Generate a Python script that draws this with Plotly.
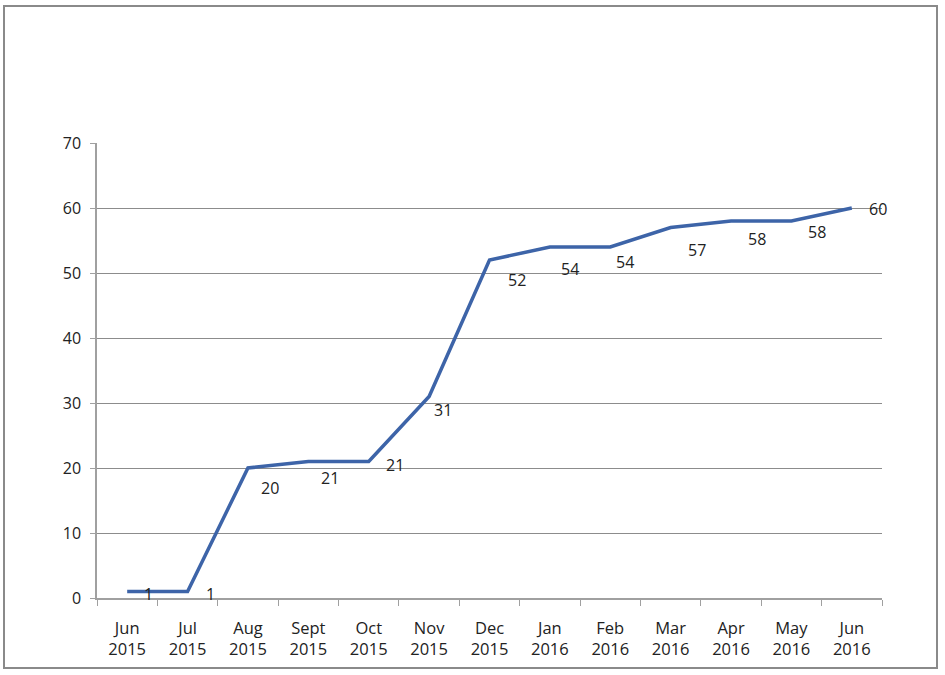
import plotly.graph_objects as go

months = ["Jun<br>2015", "Jul<br>2015", "Aug<br>2015", "Sept<br>2015", "Oct<br>2015",
          "Nov<br>2015", "Dec<br>2015", "Jan<br>2016", "Feb<br>2016", "Mar<br>2016",
          "Apr<br>2016", "May<br>2016", "Jun<br>2016"]
values = [1, 1, 20, 21, 21, 31, 52, 54, 54, 57, 58, 58, 60]
y_ticks = [0, 10, 20, 30, 40, 50, 60, 70]

# label offsets in pixels (style only)
label_dx = [21, 23, 22, 22, 26, 14, 27, 20, 15, 26, 26, 26, 26]
label_dy = [-2, -2, -20, -16, -3, -13, -20, -22, -15, -22, -18, -11, -1]

FONT = "Open Sans, sans-serif"

fig = go.Figure()
fig.add_trace(go.Scatter(
    x=months, y=values, mode="lines",
    line=dict(color="#3d64a8", width=3.5),
    showlegend=False,
))

for m, v, dx, dy in zip(months, values, label_dx, label_dy):
    fig.add_annotation(x=m, y=v, text=str(v), showarrow=False,
                       xshift=dx, yshift=dy,
                       font=dict(family=FONT, size=16, color="#222222"))

W, H = 945, 675
ml, mr, mt, mb = 97, 63, 143, 77
pw, ph = W - ml - mr, H - mt - mb

def px_x(x):
    return (x - ml) / pw

def px_y(y):
    return (H - mb - y) / ph

fig.add_shape(type="rect", xref="paper", yref="paper",
              x0=px_x(4), x1=px_x(937), y0=px_y(668), y1=px_y(6),
              line=dict(color="#8a8a8a", width=2), fillcolor="rgba(0,0,0,0)")

fig.update_layout(
    width=W, height=H,
    margin=dict(l=ml, r=mr, t=mt, b=mb),
    paper_bgcolor="white", plot_bgcolor="white",
    font=dict(family=FONT, size=16, color="#222222"),
    xaxis=dict(
        type="category", range=[-0.5, len(months) - 0.5],
        tickson="boundaries", ticks="outside", ticklen=6,
        tickcolor="#a0a0a0", showline=True, linecolor="#a0a0a0", linewidth=1.5,
        showgrid=False, tickfont=dict(size=16.5), ticklabelstandoff=14,
    ),
    yaxis=dict(
        range=[0, 70], tickvals=y_ticks, ticks="outside", ticklen=5,
        tickcolor="#a0a0a0", showline=True, linecolor="#a0a0a0", linewidth=1.5,
        showgrid=True, gridcolor="#8c8c8c", gridwidth=1, zeroline=False,
        tickfont=dict(size=16), ticklabelstandoff=6,
    ),
)

fig.write_html("out.html")
